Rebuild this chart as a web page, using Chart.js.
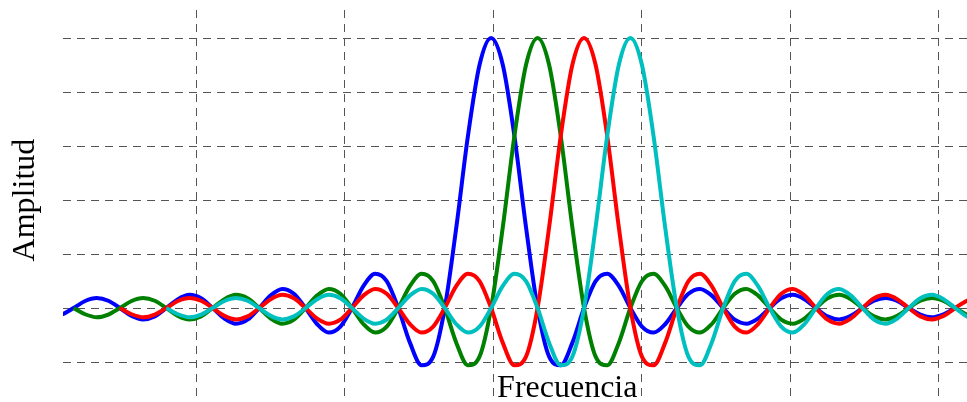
<!DOCTYPE html>
<html><head><meta charset="utf-8">
<script src="https://cdn.jsdelivr.net/npm/chart.js@4.4.1/dist/chart.umd.min.js"></script>
<style>html,body{margin:0;padding:0;background:#fff;overflow:hidden}#wrap{width:967px;height:402px;position:relative}</style>
</head><body>
<div id="wrap"><canvas id="c" width="967" height="402"></canvas></div>
<script>
// Frequency axis (MHz), one sample every quarter of the subcarrier spacing
const freqMHz = [-2.981,-2.903,-2.825,-2.747,-2.669,-2.591,-2.513,-2.434,-2.356,-2.278,
 -2.200,-2.122,-2.044,-1.966,-1.888,-1.809,-1.731,-1.653,-1.575,-1.497,
 -1.419,-1.341,-1.263,-1.184,-1.106,-1.028,-0.950,-0.872,-0.794,-0.716,
 -0.638,-0.559,-0.481,-0.403,-0.325,-0.247,-0.169,-0.091,-0.013,0.066,
 0.144,0.222,0.300,0.378,0.456,0.534,0.613,0.691,0.769,0.847,
 0.925,1.003,1.081,1.159,1.238,1.316,1.394,1.472,1.550,1.628,
 1.706,1.784,1.863,1.941,2.019,2.097,2.175,2.253,2.331,2.409,
 2.488,2.566,2.644,2.722,2.800,2.878,2.956,3.034,3.113,3.191,3.269];

const subcarrierBlue = [-0.034,-0.024,0,0.026,0.037,0.027,0,-0.029,-0.042,-0.031,
 0,0.033,0.049,0.036,0,-0.039,-0.058,-0.043,0,0.047,
 0.071,0.053,0,-0.060,-0.091,-0.069,0,0.082,0.127,0.100,
 0,-0.129,-0.212,-0.180,0,0.300,0.637,0.900,1,0.900,
 0.637,0.300,0,-0.180,-0.212,-0.129,0,0.100,0.127,0.082,
 0,-0.069,-0.091,-0.060,0,0.053,0.071,0.047,0,-0.043,
 -0.058,-0.039,0,0.036,0.049,0.033,0,-0.031,-0.042,-0.029,
 0,0.027,0.037,0.026,0,-0.024,-0.034,-0.023,0,null,null];

const subcarrierGreen = [null,null,0,-0.023,-0.034,-0.024,0,0.026,0.037,0.027,
 0,-0.029,-0.042,-0.031,0,0.033,0.049,0.036,0,-0.039,
 -0.058,-0.043,0,0.047,0.071,0.053,0,-0.060,-0.091,-0.069,
 0,0.082,0.127,0.100,0,-0.129,-0.212,-0.180,0,0.300,
 0.637,0.900,1,0.900,0.637,0.300,0,-0.180,-0.212,-0.129,
 0,0.100,0.127,0.082,0,-0.069,-0.091,-0.060,0,0.053,
 0.071,0.047,0,-0.043,-0.058,-0.039,0,0.036,0.049,0.033,
 0,-0.031,-0.042,-0.029,0,0.027,0.037,0.026,0,-0.024,-0.034];

const subcarrierRed = [null,null,null,null,null,null,0,-0.023,-0.034,-0.024,
 0,0.026,0.037,0.027,0,-0.029,-0.042,-0.031,0,0.033,
 0.049,0.036,0,-0.039,-0.058,-0.043,0,0.047,0.071,0.053,
 0,-0.060,-0.091,-0.069,0,0.082,0.127,0.100,0,-0.129,
 -0.212,-0.180,0,0.300,0.637,0.900,1,0.900,0.637,0.300,
 0,-0.180,-0.212,-0.129,0,0.100,0.127,0.082,0,-0.069,
 -0.091,-0.060,0,0.053,0.071,0.047,0,-0.043,-0.058,-0.039,
 0,0.036,0.049,0.033,0,-0.031,-0.042,-0.029,0,0.027,0.037];

const subcarrierCyan = [null,null,null,null,null,null,null,null,null,null,
 0,-0.023,-0.034,-0.024,0,0.026,0.037,0.027,0,-0.029,
 -0.042,-0.031,0,0.033,0.049,0.036,0,-0.039,-0.058,-0.043,
 0,0.047,0.071,0.053,0,-0.060,-0.091,-0.069,0,0.082,
 0.127,0.100,0,-0.129,-0.212,-0.180,0,0.300,0.637,0.900,
 1,0.900,0.637,0.300,0,-0.180,-0.212,-0.129,0,0.100,
 0.127,0.082,0,-0.069,-0.091,-0.060,0,0.053,0.071,0.047,
 0,-0.043,-0.058,-0.039,0,0.036,0.049,0.033,0,-0.031,-0.042];

const xGridTicks = [-2,-1,0,1,2,3];
const yGridTicks = [-0.2,0,0.2,0.4,0.6,0.8,1.0];
const xTitle = 'Frecuencia';
const yTitle = 'Amplitud';

function pts(arr){ return freqMHz.map((f,i)=>({x:f,y:arr[i]})); }
function ds(arr,color,order){
  return {data:pts(arr),borderColor:color,backgroundColor:color,borderWidth:4,pointRadius:0,
    cubicInterpolationMode:'monotone',spanGaps:false,fill:false,order:order,clip:0};
}

const titlesPlugin = {
  id:'titles',
  afterDraw(chart){
    const ctx = chart.ctx, xs = chart.scales.x, ys = chart.scales.y;
    ctx.save();
    ctx.fillStyle = '#000';
    ctx.font = '32px "Liberation Serif", "Times New Roman", serif';
    ctx.textAlign = 'center';
    ctx.textBaseline = 'alphabetic';
    ctx.fillText(xTitle, xs.getPixelForValue(0.5), 397);
    ctx.translate(34, ys.getPixelForValue(0.4));
    ctx.rotate(-Math.PI/2);
    ctx.fillText(yTitle, 0, 0);
    ctx.restore();
  }
};

const gridStyle = {color:'#555',lineWidth:1,drawTicks:false};
new Chart(document.getElementById('c'), {
  type:'line',
  data:{datasets:[
    ds(subcarrierBlue,'#0000FF',4),
    ds(subcarrierGreen,'#008000',3),
    ds(subcarrierRed,'#FF0000',2),
    ds(subcarrierCyan,'#00BFBF',1)
  ]},
  options:{
    responsive:false,animation:false,devicePixelRatio:1,
    layout:{padding:{left:63,top:10,right:0,bottom:0}},
    plugins:{legend:{display:false},tooltip:{enabled:false},title:{display:false}},
    scales:{
      x:{type:'linear',min:-2.896,max:3.192,
        afterBuildTicks(s){ s.ticks = xGridTicks.map(v=>({value:v})); },
        ticks:{display:false},grid:gridStyle,border:{display:false,dash:[8,6]}},
      y:{type:'linear',min:-0.348,max:1.104,
        afterBuildTicks(s){ s.ticks = yGridTicks.map(v=>({value:v})); },
        ticks:{display:false},grid:gridStyle,border:{display:false,dash:[8,6]}}
    }
  },
  plugins:[titlesPlugin]
});
</script>
</body></html>
